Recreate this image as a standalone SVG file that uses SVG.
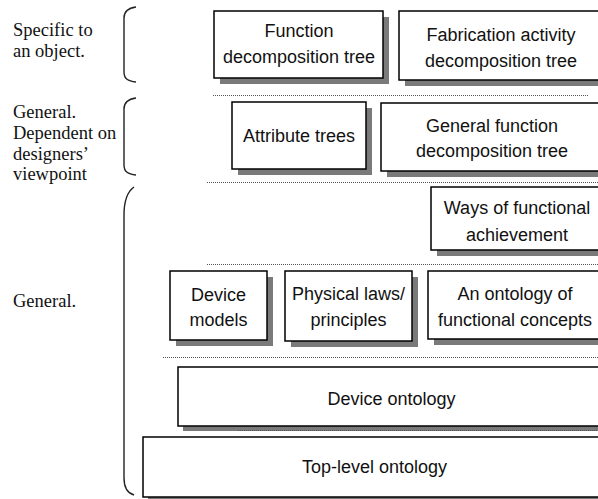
<svg xmlns="http://www.w3.org/2000/svg" width="598" height="499" viewBox="0 0 598 499">
  <style>
    .label { font-family: "Liberation Serif", "Times New Roman", serif; font-size: 18.5px; fill: #111; }
    .box { fill: #ffffff; stroke: #000000; stroke-width: 1.5; }
    .drop { fill: #7a7a7a; }
    .name { font-family: "Liberation Sans", Arial, sans-serif; font-size: 18px; fill: #111; text-anchor: middle; }
    .sep { stroke: #555; stroke-width: 1; stroke-dasharray: 1 1; fill: none; }
    .brace { fill: none; stroke: #222; stroke-width: 1.4; }
  </style>

  <!-- category labels on the left -->
  <g id="labels">
    <text class="label" x="13" y="36">Specific to</text>
    <text class="label" x="13" y="57">an object.</text>
    <text class="label" x="13" y="118">General.</text>
    <text class="label" x="13" y="139">Dependent on</text>
    <text class="label" x="13" y="160">designers’</text>
    <text class="label" x="13" y="180">viewpoint</text>
    <text class="label" x="13" y="307">General.</text>
  </g>

  <!-- brackets grouping the layers -->
  <g id="brackets">
    <path class="brace" d="M136,7 C128,8 124,11 124,18 L124,72 C124,79 128,81 136,82"/>
    <path class="brace" d="M136,98 C128,99 124,102 124,109 L124,165 C124,172 128,174 136,175"/>
    <path class="brace" d="M134,187 C127,192 124,200 124,215 L124,478 C124,488 127,493 134,495"/>
  </g>

  <!-- dotted layer separators -->
  <g id="connectors">
    <line class="sep" x1="213" y1="95.5" x2="588" y2="95.5"/>
    <line class="sep" x1="207" y1="182.5" x2="598" y2="182.5"/>
    <line class="sep" x1="207" y1="264.5" x2="598" y2="264.5"/>
    <line class="sep" x1="163" y1="357.5" x2="598" y2="357.5"/>
  </g>

  <!-- each box: grey offset shadow rect underneath, then the framed box -->
  <g id="function-decomposition-tree">
    <rect class="drop" x="220" y="17" width="169" height="67"/>
    <rect class="box" x="214" y="11" width="169" height="67"/>
    <text class="name" x="299" y="37">Function</text>
    <text class="name" x="299" y="63">decomposition tree</text>
  </g>

  <g id="fabrication-activity-decomposition-tree">
    <rect class="drop" x="405" y="17" width="205" height="69"/>
    <rect class="box" x="399" y="11" width="205" height="69"/>
    <text class="name" x="501" y="41">Fabrication activity</text>
    <text class="name" x="501" y="67">decomposition tree</text>
  </g>

  <g id="attribute-trees">
    <rect class="drop" x="238" y="108" width="134" height="67"/>
    <rect class="box" x="232" y="102" width="134" height="67"/>
    <text class="name" x="299" y="142">Attribute trees</text>
  </g>

  <g id="general-function-decomposition-tree">
    <rect class="drop" x="387" y="109" width="222" height="68"/>
    <rect class="box" x="381" y="103" width="222" height="68"/>
    <text class="name" x="492" y="132">General function</text>
    <text class="name" x="492" y="157">decomposition tree</text>
  </g>

  <g id="ways-of-functional-achievement">
    <rect class="drop" x="437" y="193" width="172" height="63"/>
    <rect class="box" x="431" y="187" width="172" height="63"/>
    <text class="name" x="517" y="214">Ways of functional</text>
    <text class="name" x="517" y="241">achievement</text>
  </g>

  <g id="device-models">
    <rect class="drop" x="176" y="277" width="97" height="69"/>
    <rect class="box" x="170" y="271" width="97" height="69"/>
    <text class="name" x="218.5" y="301">Device</text>
    <text class="name" x="218.5" y="326">models</text>
  </g>

  <g id="physical-laws-principles">
    <rect class="drop" x="291" y="277" width="127" height="70"/>
    <rect class="box" x="285" y="271" width="127" height="70"/>
    <text class="name" x="348.5" y="300">Physical laws/</text>
    <text class="name" x="348.5" y="326">principles</text>
  </g>

  <g id="ontology-of-functional-concepts">
    <rect class="drop" x="434" y="277" width="175" height="68"/>
    <rect class="box" x="428" y="271" width="175" height="68"/>
    <text class="name" x="515" y="300">An ontology of</text>
    <text class="name" x="515" y="326">functional concepts</text>
  </g>

  <g id="device-ontology">
    <rect class="drop" x="183" y="372" width="427" height="59"/>
    <rect class="box" x="178" y="367" width="427" height="59"/>
    <text class="name" x="391.5" y="405">Device ontology</text>
  </g>

  <!-- separator lying over the device ontology shadow -->
  <line class="sep" x1="238" y1="430.5" x2="598" y2="430.5"/>

  <g id="top-level-ontology">
    <rect class="drop" x="148" y="442" width="462" height="60"/>
    <rect class="box" x="143" y="437" width="462" height="60"/>
    <text class="name" x="374.5" y="473">Top-level ontology</text>
  </g>
</svg>
